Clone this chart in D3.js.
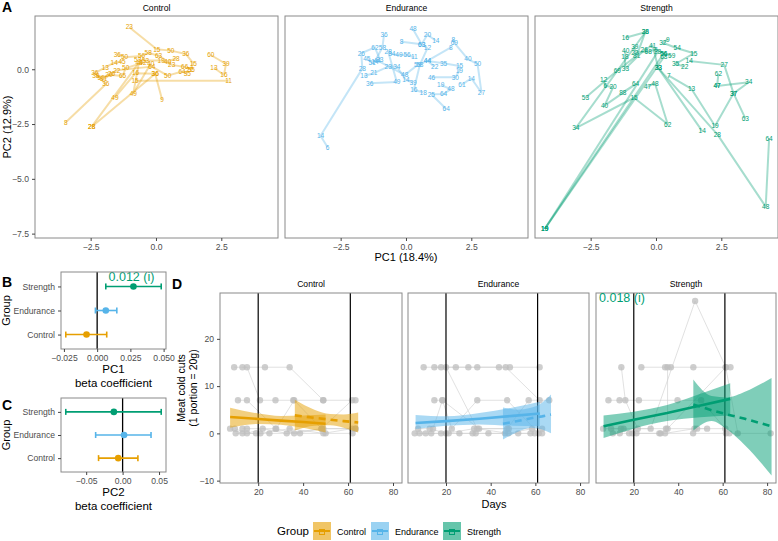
<!DOCTYPE html>
<html>
<head>
<meta charset="utf-8">
<script src="https://cdn.jsdelivr.net/npm/d3@7"></script>
<style>
body { margin: 0; background: #fff; }
text { font-family: "Liberation Sans", Arial, sans-serif; }
</style>
</head>
<body>
<script>
//groups and colours
var groups = ["Control", "Endurance", "Strength"];
var groupColors = ["#E69F00", "#56B4E9", "#009E73"];

//panel A: PCA trajectories, one array per participant: [PC1, PC2, day label]
var pcaControl = [
    [[-1.02, 1.92, "23"], [0.03, 0.91, "15"], [0.57, 0.85, "50"], [1.14, 0.70, "36"], [1.43, 0.27, "15"], [1.3, -0.03, "22"]],
    [[2.1, 0.65, "60"], [2.68, 0.24, "39"], [2.6, -0.26, "16"], [2.22, 0.07, "13"]],
    [[-0.8, -0.52, "15"], [2.78, -0.53, "11"]],
    [[-3.45, -2.42, "8"], [-1.92, -0.68, "36"], [-2.34, -0.18, "36"], [-1.94, 0.09, "13"], [-1.6, 0.3, "14"], [-1.3, 0.35, "45"]],
    [[-2.46, -2.62, "28"], [-0.65, 0.3, "48"], [-0.87, -1.10, "49"], [-0.2, 0.25, "40"]],
    [[-2.46, -2.62, "28"], [-0.03, -0.21, "36"]],
    [[-1.57, -1.28, "49"], [-0.78, -0.18, "16"], [-0.03, -0.21, "36"], [0.23, -1.37, "9"]],
    [[-1.48, 0.68, "36"], [-1.2, 0.55, "50"], [-0.55, 0.6, "56"], [-0.3, 0.75, "58"], [0.1, 0.62, "63"], [0.45, 0.35, "40"], [0.77, 0.5, "28"]],
    [[-2.3, -0.3, "38"], [-2.1, -0.4, "50"], [-1.8, -0.25, "20"], [-1.28, -0.31, "65"], [-1.16, 0.05, "50"], [-0.5, 0.3, "42"]],
    [[-2.0, -0.45, "31"], [-1.7, -0.2, "26"], [-1.5, -0.05, "22"], [-0.16, 0.12, "64"], [0.45, -0.29, "50"], [1.0, -0.1, "64"], [1.2, -0.2, "35"]],
    [[-0.7, 0.45, "53"], [-0.4, 0.4, "53"], [0.2, 0.4, "19"], [0.6, 0.2, "23"], [1.1, 0.1, "66"], [1.35, 0.0, "55"]]
];
var pcaEndurance = [
    [[-0.84, 1.58, "36"], [-0.9, 1.0, "58"], [-1.19, 0.35, "14"]],
    [[-0.17, 1.26, "8"], [0.6, 1.14, "63"], [0.82, 1.57, "20"], [1.14, 1.31, "14"]],
    [[0.27, 1.83, "48"], [0.6, 1.14, "63"], [0.82, 0.96, "12"], [0.53, 0.2, "58"], [0.3, -0.95, "16"], [0.66, -1.05, "18"]],
    [[1.81, 1.37, "8"], [1.85, 1.2, "69"], [2.37, 0.46, "40"], [2.74, 0.23, "50"], [2.89, -1.07, "27"], [2.5, -0.41, "14"], [2.14, -0.7, "61"]],
    [[-3.0, -3.56, "6"], [-3.27, -3.03, "14"], [-1.67, 0.03, "28"], [-1.71, 0.73, "26"], [-1.19, 1.0, "62"], [-1.0, 0.45, "33"]],
    [[-1.61, -0.31, "13"], [-1.23, -0.18, "21"], [-0.68, 0.12, "23"], [-0.35, 0.12, "34"], [0.0, -0.49, "14"], [0.27, -0.61, "39"]],
    [[-1.39, -0.64, "36"], [-0.35, -0.58, "49"], [-0.68, 0.8, "28"], [-0.54, 0.7, "34"], [-0.27, 0.65, "49"], [0.04, 0.65, "56"], [0.32, 0.55, "11"]],
    [[1.1, 0.12, "22"], [0.82, 0.38, "44"], [1.44, 0.27, "35"], [2.05, 0.15, "15"], [2.04, -0.08, "19"], [1.89, -0.37, "30"], [0.98, -0.37, "46"]],
    [[1.33, -0.72, "19"], [1.72, -0.91, "48"], [1.44, -1.13, "64"], [0.97, -1.14, "25"], [1.54, -1.81, "64"]],
    [[-1.5, 0.5, "45"], [-1.3, 0.3, "51"], [-1.1, 0.4, "44"], [-0.05, -0.26, "48"], [0.45, 0.2, "59"], [0.82, 0.38, "44"], [1.72, 1.0, "8"]]
];
var pcaStrength = [
    [[-1.17, 1.44, "16"], [-0.41, 1.69, "38"], [-0.74, 0.61, "81"], [-1.48, -0.06, "69"], [-2.7, -1.3, "53"]],
    [[0.45, 1.37, "9"], [0.26, 1.21, "32"], [0.81, 0.96, "54"], [1.45, 0.73, "15"], [0.75, 0.24, "35"], [1.1, 0.12, "22"]],
    [[1.27, 0.38, "14"], [2.61, 0.2, "27"], [2.97, -1.1, "37"], [3.42, -2.24, "63"]],
    [[2.34, -0.76, "47"], [3.55, -0.59, "34"], [2.97, -1.1, "37"], [2.26, -2.59, "19"], [1.36, -0.9, "13"], [0.49, -0.29, "7"]],
    [[2.39, -0.21, "62"], [2.34, -0.76, "47"]],
    [[0.09, 0.05, "33"], [2.35, -2.97, "28"], [4.2, -6.27, "48"], [4.33, -3.15, "64"]],
    [[-0.41, 1.69, "26"], [-3.07, -2.69, "34"], [-0.84, -1.3, "15"], [0.45, -2.51, "62"], [-0.04, -0.64, "48"], [-0.32, -0.79, "47"]],
    [[-2.0, -0.49, "12"], [-1.94, -0.75, "6"], [-1.64, -0.82, "20"], [-1.97, -1.66, "40"], [-0.78, -0.68, "64"], [-1.27, -1.05, "88"]],
    [[-4.26, -7.29, "19"], [0.3, 0.73, "56"]],
    [[-4.26, -7.29, "19"], [0.06, 0.78, "28"]],
    [[-4.26, -7.29, "19"], [0.3, 0.55, "68"]],
    [[-1.16, 0.85, "40"], [-1.19, 0.55, "18"], [-1.17, 0.03, "33"], [-0.45, 0.88, "26"], [-0.13, 1.08, "41"], [0.09, 0.05, "33"], [1.77, -2.82, "14"]],
    [[-0.81, 1.03, "39"], [-0.81, 0.76, "22"], [-0.3, 0.8, "68"], [0.0, 0.9, "6"], [0.3, 0.73, "56"], [0.6, 0.6, "59"]]
];
var pcaTicksX = [-2.5, 0, 2.5];
var pcaTicksY = [0, -2.5, -5, -7.5];

//panels B and C: beta coefficients (Control, Endurance, Strength)
var pc1Est = [-0.008, 0.0065, 0.0273];
var pc1Low = [-0.0236, -0.0013, 0.0065];
var pc1High = [0.0072, 0.0148, 0.0482];
var pc2Est = [-0.006, 0.002, -0.012];
var pc2Low = [-0.033, -0.037, -0.078];
var pc2High = [0.021, 0.039, 0.053];
var pc1Ticks = [-0.025, 0, 0.025, 0.05];
var pc2Ticks = [-0.05, 0, 0.05];
var pc1Note = "0.012 (i)";
var meatNote = "0.018 (i)";

//panel D: meat cold cuts per participant, [day, portions]
var meatControl = [
    [[9.3, 14], [23, 14], [34, 14], [49, 7], [63.3, 7]],
    [[13, 14], [15, 14], [20.8, 7], [27.7, 7], [35.6, 7], [48.9, 7]],
    [[11, 7], [15, 7], [28, 1], [36, 7], [48.2, 1], [61.8, 7]],
    [[7.5, 1], [13, 0], [21, 0], [34, 1], [49, 0], [61.8, 1]],
    [[9.6, 1], [15, 0], [22, 1], [32.7, 0], [48.2, 1], [63.3, 1]],
    [[10, 0], [19, 0], [25, 0], [38.6, 0], [50, 0], [62, 0]],
    [[13, 1], [15, 1], [27.7, 1], [36, 0], [49, 1], [63.3, 1]]
];
var meatEndurance = [
    [[10, 14], [17.8, 14], [30, 14], [43.7, 14], [48.6, 14], [61.9, 14]],
    [[14.8, 14], [24.4, 14], [34, 14], [46.7, 14], [61.9, 7]],
    [[14.8, 7], [18.4, 7], [22.6, 1], [34, 7], [47.4, 7], [61.5, 0]],
    [[7.5, 1], [12.7, 1], [20, 0], [32.6, 1], [48.1, 1], [63, 1]],
    [[6, 0], [10.9, 0], [17.8, 0], [26, 0], [33.3, 0], [46.4, 0], [59.7, 0]],
    [[8.2, 0], [13.4, 0], [21.2, 0], [31.9, 0], [39, 0], [52.3, 0], [57.8, 0]],
    [[14.2, 1], [18.4, 7], [34.8, 1], [47.4, 1], [57, 7], [66.2, 7]],
    [[20, 14], [34, 1], [48, 0], [58.5, 1], [63, 0]]
];
var meatStrength = [
    [[6.2, 1], [14.2, 1], [27.6, 1], [47.6, 28], [61.4, 14], [66.8, 0]],
    [[14.4, 14], [16.2, 7], [21.8, 1], [34.5, 1], [48.5, 1], [61.2, 1]],
    [[8.6, 7], [13.6, 7], [22.3, 7], [39.7, 7], [50.3, 7], [63, 0]],
    [[23.4, 14], [34.1, 14], [36.7, 14], [46.8, 14], [63.5, 14]],
    [[9.8, 1], [15.4, 1], [21.2, 0], [32.1, 0], [46.7, 0], [61.5, 0], [81.6, 0]],
    [[10.6, 0], [13.7, 0], [17.9, 0], [19.4, 0], [31.5, 0], [34.1, 0], [47.3, 1], [53, 1]],
    [[35.2, 14], [35.2, 1], [61.4, 14]]
];
//fitted lines with confidence band: [day, fit, lower, upper]
var fitControl = [[7.5, 3.45, 1.2, 5.4], [20, 3.05, 2.0, 4.2], [30, 2.7, 1.8, 3.7], [40, 2.4, 1.2, 3.8], [50, 2.05, 0.2, 4.0]];
var fitControlPost = [[36.3, 3.8, 0.6, 7.1], [45, 3.3, 1.6, 5.0], [52, 2.9, 1.7, 4.1], [58, 2.6, 1.2, 4.0], [64.5, 2.3, 0.2, 4.4]];
var fitEndurance = [[6.4, 2.2, 0.9, 3.9], [20, 2.6, 1.6, 3.6], [35, 3.1, 1.9, 4.3], [50, 3.7, 1.6, 5.5], [62, 4.2, 1.5, 6.7]];
var fitEndurancePost = [[45.5, 2.05, -1.3, 5.5], [52, 2.6, 0.3, 5.0], [58, 3.2, 1.2, 5.4], [63, 3.6, 0.8, 6.5], [67, 4.0, 0, 8.2]];
var fitStrength = [[6.4, 1.5, -1.0, 3.8], [20, 2.9, 1.0, 4.6], [35, 4.3, 2.6, 6.0], [50, 5.9, 3.4, 8.4], [63.4, 7.3, 3.8, 10.6]];
var fitStrengthPost = [[46.8, 6.1, 0.6, 11.4], [55, 4.9, 2.6, 7.9], [62, 4.0, 0.8, 7.6], [70, 3.1, -2.5, 8.8], [82, 1.5, -8.9, 11.7]];
var dayTicks = [20, 40, 60, 80];
var meatTicks = [-10, 0, 10, 20];
var phaseDays = [20, 61];

var w = 778;
var h = 541;
var tickGrey = "#4d4d4d";
var borderGrey = "#8a8a8a";

var svg = d3.select("body")
    .append("svg")
    .attr("width", w)
    .attr("height", h);

//tidy up d3 axis look to ggplot style
function styleAxis(g) {
    g.attr("font-family", null).attr("font-size", null);
    g.select(".domain").remove();
    g.selectAll(".tick line").attr("stroke", "#444");
    g.selectAll(".tick text").attr("fill", tickGrey).style("font-size", "8.6px");
}

function border(x0, y0, x1, y1) {
    svg.append("rect")
        .attr("x", x0).attr("y", y0)
        .attr("width", x1 - x0).attr("height", y1 - y0)
        .attr("fill", "none")
        .attr("stroke", borderGrey)
        .attr("stroke-width", 1);
}

function letter(t, x, y) {
    svg.append("text").attr("x", x).attr("y", y)
        .style("font-size", "14px").style("font-weight", "bold")
        .text(t);
}

// ---------- A ----------
var pcaX0 = [35, 285, 535];
var pcaW = 243;
var pcaTop = 16, pcaBottom = 238;

function drawPca(tracks, i) {
    var x = d3.scaleLinear().domain([-4.63, 4.67]).range([pcaX0[i], pcaX0[i] + pcaW]);
    var y = d3.scaleLinear().domain([-7.7, 2.43]).range([pcaBottom, pcaTop]);
    var col = groupColors[i];

    svg.append("text")
        .attr("x", pcaX0[i] + pcaW / 2).attr("y", 11)
        .attr("text-anchor", "middle")
        .style("font-size", "8.6px")
        .text(groups[i]);

    var line = d3.line()
        .x(function(d) { return x(d[0]); })
        .y(function(d) { return y(d[1]); });

    var g = svg.append("g");
    g.selectAll("path")
        .data(tracks)
        .join("path")
        .attr("d", line)
        .attr("fill", "none")
        .attr("stroke", col)
        .attr("stroke-opacity", 0.35)
        .attr("stroke-width", 2)
        .attr("stroke-linejoin", "round");

    g.selectAll("text")
        .data(d3.merge(tracks))
        .join("text")
        .attr("x", function(d) { return x(d[0]); })
        .attr("y", function(d) { return y(d[1]); })
        .attr("dy", "0.35em")
        .attr("text-anchor", "middle")
        .attr("fill", col)
        .style("font-size", "6.5px")
        .text(function(d) { return d[2]; });

    border(pcaX0[i], pcaTop, pcaX0[i] + pcaW, pcaBottom);

    svg.append("g")
        .attr("transform", "translate(0," + pcaBottom + ")")
        .call(d3.axisBottom(x).tickValues(pcaTicksX).tickFormat(d3.format(".1f")).tickSize(3).tickSizeOuter(0))
        .call(styleAxis);

    if (i === 0) {
        svg.append("g")
            .attr("transform", "translate(" + pcaX0[i] + ",0)")
            .call(d3.axisLeft(y).tickValues(pcaTicksY).tickFormat(d3.format(".1f")).tickSize(3).tickSizeOuter(0))
            .call(styleAxis);
    }
}

drawPca(pcaControl, 0);
drawPca(pcaEndurance, 1);
drawPca(pcaStrength, 2);

letter("A", 2, 12);
svg.append("text")
    .attr("transform", "translate(11,127) rotate(-90)")
    .attr("text-anchor", "middle")
    .style("font-size", "11px")
    .text("PC2 (12.9%)");
svg.append("text")
    .attr("x", 406).attr("y", 261)
    .attr("text-anchor", "middle")
    .style("font-size", "11px")
    .text("PC1 (18.4%)");

// ---------- B and C ----------
function drawBeta(est, lo, hi, ticks, fmt, top, bottom, pcName, note) {
    var left = 61, right = 166;
    var lowest = d3.min(lo), highest = d3.max(hi);
    var pad = (highest - lowest) * 0.05;
    var x = d3.scaleLinear().domain([lowest - pad, highest + pad]).range([left, right]);
    var y = d3.scalePoint().domain(groups).range([bottom, top]).padding(0.6);

    //zero line
    svg.append("line")
        .attr("x1", x(0)).attr("x2", x(0))
        .attr("y1", top).attr("y2", bottom)
        .attr("stroke", "#000").attr("stroke-width", 1.3);

    var g = svg.append("g");
    groups.forEach(function(grp, k) {
        var yy = y(grp);
        g.append("line")
            .attr("x1", x(lo[k])).attr("x2", x(hi[k]))
            .attr("y1", yy).attr("y2", yy)
            .attr("stroke", groupColors[k]).attr("stroke-width", 1.6);
        [lo[k], hi[k]].forEach(function(v) {
            g.append("line")
                .attr("x1", x(v)).attr("x2", x(v))
                .attr("y1", yy - 3).attr("y2", yy + 3)
                .attr("stroke", groupColors[k]).attr("stroke-width", 1.6);
        });
        g.append("circle")
            .attr("cx", x(est[k])).attr("cy", yy).attr("r", 3.3)
            .attr("fill", groupColors[k]);
    });

    if (note) {
        svg.append("text")
            .attr("x", x(est[2]) - 2).attr("y", y("Strength") - 5)
            .attr("text-anchor", "middle")
            .attr("fill", groupColors[2])
            .style("font-size", "12.5px")
            .text(note);
    }

    border(left, top, right, bottom);

    svg.append("g")
        .attr("transform", "translate(0," + bottom + ")")
        .call(d3.axisBottom(x).tickValues(ticks).tickFormat(d3.format(fmt)).tickSize(3).tickSizeOuter(0))
        .call(styleAxis);
    svg.append("g")
        .attr("transform", "translate(" + left + ",0)")
        .call(d3.axisLeft(y).tickSize(3).tickSizeOuter(0))
        .call(styleAxis);

    svg.append("text")
        .attr("transform", "translate(10," + ((top + bottom) / 2) + ") rotate(-90)")
        .attr("text-anchor", "middle")
        .style("font-size", "11px")
        .text("Group");
    svg.append("text")
        .attr("x", (left + right) / 2).attr("y", bottom + 24)
        .attr("text-anchor", "middle")
        .style("font-size", "11.5px")
        .text(pcName);
    svg.append("text")
        .attr("x", (left + right) / 2).attr("y", bottom + 37.5)
        .attr("text-anchor", "middle")
        .style("font-size", "11.5px")
        .text("beta coefficient");
}

drawBeta(pc1Est, pc1Low, pc1High, pc1Ticks, ".3f", 272, 349, "PC1", pc1Note);
drawBeta(pc2Est, pc2Low, pc2High, pc2Ticks, ".2f", 398, 472, "PC2", null);
letter("B", 2, 287);
letter("C", 2, 410);

// ---------- D ----------
var meatX0 = [220, 408, 596];
var meatW = [182, 181, 180];
var meatTop = 293, meatBottom = 483;
var meatSets = [meatControl, meatEndurance, meatStrength];
var fitSets = [fitControl, fitEndurance, fitStrength];
var fitPostSets = [fitControlPost, fitEndurancePost, fitStrengthPost];

function drawMeat(i) {
    var x = d3.scaleLinear().domain([3, 84]).range([meatX0[i], meatX0[i] + meatW[i]]);
    var y = d3.scaleLinear().domain([-10.5, 29.7]).range([meatBottom, meatTop]);
    var col = groupColors[i];

    svg.append("text")
        .attr("x", meatX0[i] + meatW[i] / 2).attr("y", 287)
        .attr("text-anchor", "middle")
        .style("font-size", "8.6px")
        .text(groups[i]);

    var line = d3.line()
        .x(function(d) { return x(d[0]); })
        .y(function(d) { return y(d[1]); });

    var g = svg.append("g");
    g.selectAll("path.subj")
        .data(meatSets[i])
        .join("path")
        .attr("class", "subj")
        .attr("d", line)
        .attr("fill", "none")
        .attr("stroke", "#cfcfcf")
        .attr("stroke-opacity", 0.7)
        .attr("stroke-width", 0.9);

    g.selectAll("circle")
        .data(d3.merge(meatSets[i]))
        .join("circle")
        .attr("cx", function(d) { return x(d[0]); })
        .attr("cy", function(d) { return y(d[1]); })
        .attr("r", 3.2)
        .attr("fill", "#bdbdbd")
        .attr("fill-opacity", 0.75);

    //phase lines
    phaseDays.forEach(function(dd) {
        svg.append("line")
            .attr("x1", x(dd)).attr("x2", x(dd))
            .attr("y1", meatTop).attr("y2", meatBottom)
            .attr("stroke", "#000").attr("stroke-width", 1.2);
    });

    var band = d3.area()
        .x(function(d) { return x(d[0]); })
        .y0(function(d) { return y(d[2]); })
        .y1(function(d) { return y(d[3]); })
        .curve(d3.curveMonotoneX);
    var fit = d3.line()
        .x(function(d) { return x(d[0]); })
        .y(function(d) { return y(d[1]); });

    [fitSets[i], fitPostSets[i]].forEach(function(f, k) {
        svg.append("path")
            .datum(f)
            .attr("d", band)
            .attr("fill", col)
            .attr("fill-opacity", 0.5);
    });
    [fitSets[i], fitPostSets[i]].forEach(function(f, k) {
        svg.append("path")
            .datum(f)
            .attr("d", fit)
            .attr("fill", "none")
            .attr("stroke", col)
            .attr("stroke-width", 2.6)
            .attr("stroke-dasharray", k === 1 ? "7,5" : null);
    });

    border(meatX0[i], meatTop, meatX0[i] + meatW[i], meatBottom);

    svg.append("g")
        .attr("transform", "translate(0," + meatBottom + ")")
        .call(d3.axisBottom(x).tickValues(dayTicks).tickFormat(d3.format("d")).tickSize(3).tickSizeOuter(0))
        .call(styleAxis);

    if (i === 0) {
        svg.append("g")
            .attr("transform", "translate(" + meatX0[i] + ",0)")
            .call(d3.axisLeft(y).tickValues(meatTicks).tickFormat(d3.format("d")).tickSize(3).tickSizeOuter(0))
            .call(styleAxis);
    }
    if (i === 2) {
        svg.append("text")
            .attr("x", meatX0[i] + 3).attr("y", meatTop + 9)
            .attr("fill", col)
            .style("font-size", "12.5px")
            .text(meatNote);
    }
}

drawMeat(0);
drawMeat(1);
drawMeat(2);

letter("D", 172, 289);
svg.append("text")
    .attr("transform", "translate(185,388) rotate(-90)")
    .attr("text-anchor", "middle")
    .style("font-size", "10.5px")
    .text("Meat cold cuts");
svg.append("text")
    .attr("transform", "translate(197,388) rotate(-90)")
    .attr("text-anchor", "middle")
    .style("font-size", "10.5px")
    .text("(1 portion = 20g)");
svg.append("text")
    .attr("x", 494).attr("y", 508)
    .attr("text-anchor", "middle")
    .style("font-size", "11px")
    .text("Days");

// ---------- legend ----------
var legendX = [313, 371, 443];
svg.append("text")
    .attr("x", 277).attr("y", 535)
    .style("font-size", "11.5px")
    .text("Group");
groups.forEach(function(grp, k) {
    var lx = legendX[k];
    var key = svg.append("g").attr("transform", "translate(" + lx + ",522)");
    key.append("rect")
        .attr("width", 18).attr("height", 18)
        .attr("fill", groupColors[k]).attr("fill-opacity", 0.6);
    key.append("line")
        .attr("x1", 1).attr("x2", 17).attr("y1", 9).attr("y2", 9)
        .attr("stroke", groupColors[k]).attr("stroke-width", 2);
    key.append("rect")
        .attr("x", 6.5).attr("y", 7.5).attr("width", 5).attr("height", 5)
        .attr("fill", "none").attr("stroke", groupColors[k]).attr("stroke-width", 1);
    svg.append("text")
        .attr("x", lx + 24).attr("y", 534.5)
        .style("font-size", "9px")
        .text(grp);
});
</script>
</body>
</html>
